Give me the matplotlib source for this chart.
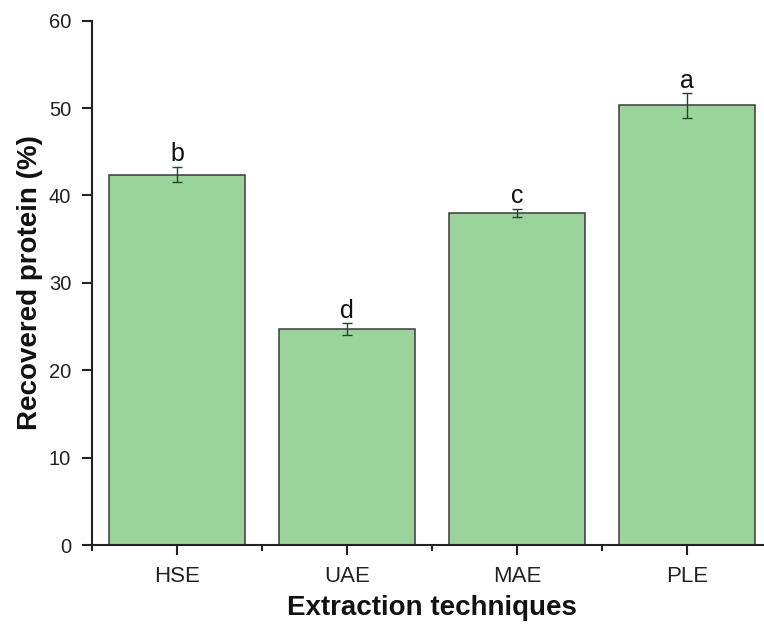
#!/usr/bin/env python3
"""Bar chart of protein recovered by each extraction technique."""

import matplotlib
matplotlib.use("Agg")
import matplotlib.pyplot as plt
from matplotlib.ticker import MultipleLocator
import numpy as np

techniques = ["HSE", "UAE", "MAE", "PLE"]
recovered = [42.4, 24.7, 38.0, 50.3]
std_err = [0.9, 0.7, 0.45, 1.4]
groups = ["b", "d", "c", "a"]

BAR_FILL = "#9bd49b"
BAR_EDGE = "#3a3a3a"
ERR_COLOR = "#24452a"

plt.rcParams["font.family"] = ["Liberation Sans", "DejaVu Sans"]


def main() -> None:
    fig = plt.figure(figsize=(7.64, 6.30), dpi=100)
    ax = fig.add_axes([0.1204, 0.1349, 0.890, 0.8322])

    x = np.arange(len(techniques))
    ax.bar(x, recovered, width=0.8, color=BAR_FILL, edgecolor=BAR_EDGE,
           linewidth=1.1, zorder=2)
    ax.errorbar(x, recovered, yerr=std_err, fmt="none", ecolor=ERR_COLOR,
                elinewidth=1.0, capsize=3.5, capthick=1.0, zorder=3)

    for xi, val, err, lab in zip(x, recovered, std_err, groups):
        ax.annotate(lab, (xi, val + err), xytext=(0, 4), textcoords="offset points",
                    ha="center", va="baseline", fontsize=18, color="#111111")

    ax.set_xlim(-0.5, 3.5)
    ax.set_ylim(0, 60)
    ax.set_xticks(x)
    ax.set_xticklabels(techniques)
    ax.xaxis.set_minor_locator(MultipleLocator(1.0, offset=0.5))
    ax.yaxis.set_major_locator(MultipleLocator(10))

    for side in ("top", "right"):
        ax.spines[side].set_visible(False)
    for side in ("left", "bottom"):
        ax.spines[side].set_linewidth(1.5)
        ax.spines[side].set_color("#222222")

    ax.tick_params(axis="both", which="major", direction="out", length=7,
                   width=1.5, color="#222222", labelcolor="#222222", pad=8)
    ax.tick_params(axis="x", which="major", labelsize=16)
    ax.tick_params(axis="y", which="major", labelsize=14.5)
    ax.tick_params(axis="x", which="minor", direction="out", length=4, width=1.5,
                   color="#222222")

    ax.set_xlabel("Extraction techniques", fontsize=20, fontweight="bold",
                  labelpad=6, color="#111111")
    ax.set_ylabel("Recovered protein (%)", fontsize=20, fontweight="bold",
                  labelpad=4, color="#111111")

    fig.savefig("out.png", dpi=100)
    plt.close(fig)


if __name__ == "__main__":
    main()
